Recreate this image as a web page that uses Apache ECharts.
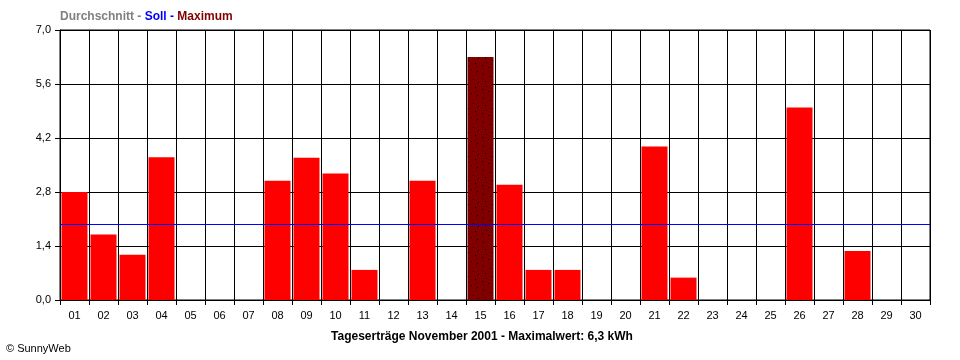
<!DOCTYPE html>
<html>
<head>
<meta charset="utf-8">
<script src="https://cdn.jsdelivr.net/npm/echarts@6/dist/echarts.min.js"></script>
<style>
html,body{margin:0;padding:0;background:#fff;}
#chart{width:960px;height:360px;}
</style>
</head>
<body>
<div id="chart"></div>
<script>
var days = ['01','02','03','04','05','06','07','08','09','10','11','12','13','14','15','16','17','18','19','20','21','22','23','24','25','26','27','28','29','30'];
var yields = [2.8,1.7,1.17,3.7,0,0,0,3.09,3.69,3.28,0.78,0,3.09,0,6.3,2.99,0.78,0.78,0,0,3.98,0.58,0,0,0,4.99,0,1.27,0,0];
var sollValue = 1.97;
var maxIndex = 14;
var yMin = 0, yMax = 7, yStep = 1.4;
var bottomTitle = 'Tageserträge November 2001 - Maximalwert: 6,3 kWh';
var copyright = '© SunnyWeb';

// dotted texture for the maximum bar
var pat = document.createElement('canvas');
pat.width = 24; pat.height = 24;
var pc = pat.getContext('2d');
pc.fillStyle = '#800000';
pc.fillRect(0, 0, 24, 24);
pc.fillStyle = '#000';
var dots = [[3,2],[10,4],[17,7],[22,10],[5,9],[12,12],[19,15],[2,17],[8,19],[15,21],[21,23],[6,14]];
dots.forEach(function (d) { pc.fillRect(d[0], d[1], 1, 1); });

var barData = yields.map(function (v, i) {
  if (i === maxIndex) {
    return {value: v, itemStyle: {color: {image: pat, repeat: 'repeat'}}};
  }
  return v;
});

var chart = echarts.init(document.getElementById('chart'), null, {renderer: 'canvas'});
var font = 'Liberation Sans, Arial, sans-serif';
chart.setOption({
  animation: false,
  backgroundColor: '#fff',
  grid: {left: 60, right: 30, top: 30, height: 270, show: true, borderColor: '#000', borderWidth: 1, backgroundColor: 'transparent'},
  title: [{
    text: '{g|Durchschnitt - }{b|Soll - }{r|Maximum}',
    left: 60, top: 11, padding: 0,
    textStyle: {
      rich: {
        g: {color: '#808080', fontWeight: 'bold', fontSize: 12, fontFamily: font},
        b: {color: '#0000ff', fontWeight: 'bold', fontSize: 12, fontFamily: font},
        r: {color: '#800000', fontWeight: 'bold', fontSize: 12, fontFamily: font}
      }
    }
  }, {
    text: bottomTitle,
    left: 482, top: 331, textAlign: 'center', padding: 0,
    textStyle: {color: '#000', fontWeight: 'bold', fontSize: 12, fontFamily: font}
  }, {
    text: copyright,
    left: 6, top: 343, padding: 0,
    textStyle: {color: '#000', fontWeight: 'normal', fontSize: 11, fontFamily: font}
  }],
  xAxis: {
    type: 'category',
    data: days,
    boundaryGap: true,
    axisLine: {lineStyle: {color: '#000', width: 1}},
    axisTick: {show: true, length: 5, lineStyle: {color: '#000'}, alignWithLabel: false},
    axisLabel: {color: '#000', fontSize: 11, fontFamily: font, margin: 10, interval: 0},
    splitLine: {show: true, lineStyle: {color: '#000', width: 1}}
  },
  yAxis: {
    type: 'value',
    min: yMin, max: yMax, interval: yStep,
    axisLine: {show: true, lineStyle: {color: '#000'}},
    axisTick: {show: true, length: 5, lineStyle: {color: '#000'}},
    axisLabel: {color: '#000', fontSize: 11, fontFamily: font, margin: 9,
      formatter: function (v) { return v.toFixed(1).replace('.', ','); }},
    splitLine: {show: true, lineStyle: {color: '#000', width: 1}}
  },
  series: [{
    type: 'bar',
    data: barData,
    barWidth: 26,
    itemStyle: {color: '#ff0000'},
    z: 3,
    markLine: {
      silent: true,
      symbol: ['none', 'none'],
      label: {show: false},
      lineStyle: {color: '#0000ff', width: 1, type: 'solid'},
      data: [{yAxis: sollValue}],
      z: 5
    }
  }]
});
</script>
</body>
</html>
